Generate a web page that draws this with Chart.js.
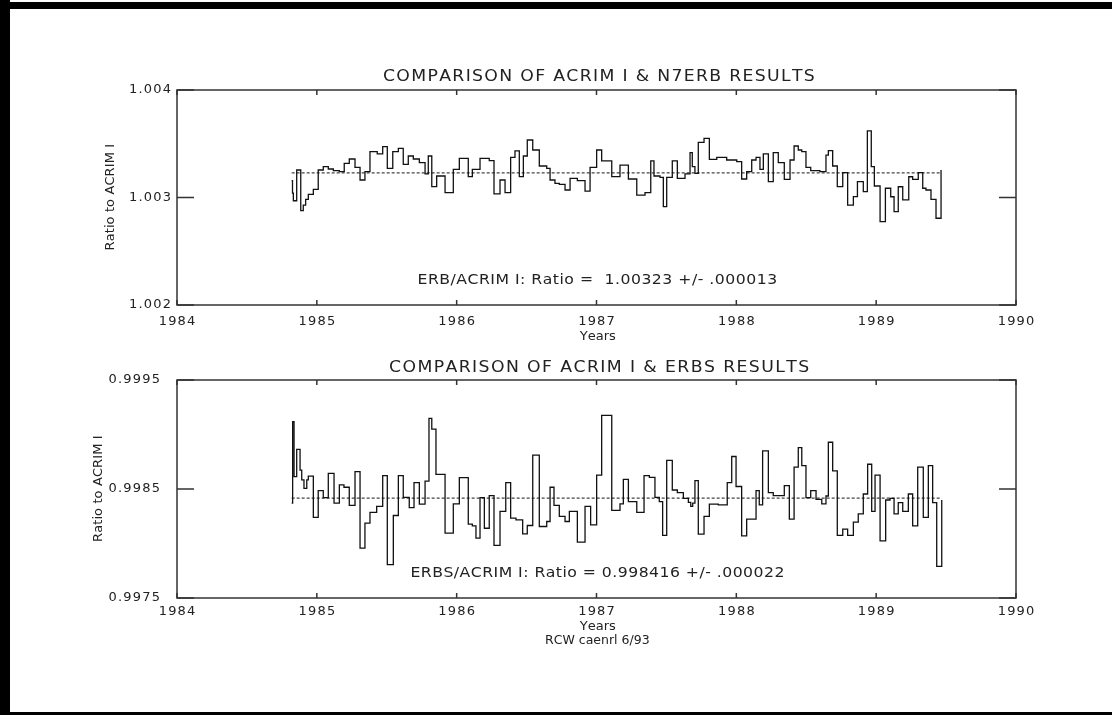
<!DOCTYPE html>
<html>
<head>
<meta charset="utf-8">
<title>Comparison of ACRIM I results</title>
<script src="https://cdn.jsdelivr.net/npm/chart.js@4.4.1/dist/chart.umd.min.js"></script>
<style>
    html, body { margin: 0; padding: 0; background: #fff; }
    #page { position: relative; width: 1112px; height: 715px; overflow: hidden; background: #fff; }
    .bar { position: absolute; background: #000; }
    canvas { position: absolute; left: 0; }
</style>
</head>
<body>
<div id="page">
    <canvas id="topChart" width="1112" height="357" style="top:0"></canvas>
    <canvas id="bottomChart" width="1112" height="358" style="top:357px"></canvas>
    <div class="bar" style="left:0;top:2px;width:1112px;height:7px"></div>
    <div class="bar" style="left:0;top:0;width:10px;height:715px"></div>
    <div class="bar" style="left:0;top:712px;width:1112px;height:3px"></div>
</div>
<script>
const years = [1984, 1985, 1986, 1987, 1988, 1989, 1990];
const n7Ticks = [1.002, 1.003, 1.004];
const erbsTicks = [0.9975, 0.9985, 0.9995];
const n7Mean = 1.00323;
const erbsMean = 0.998416;

// N7 ERB / ACRIM I, step starts (decimal year) and ratios
const n7Years = [
    1984.820, 1984.826, 1984.832, 1984.856, 1984.885, 1984.903, 1984.920, 1984.939, 1984.975, 1985.010,
    1985.046, 1985.082, 1985.118, 1985.161, 1985.196, 1985.232, 1985.273, 1985.309, 1985.344, 1985.380,
    1985.432, 1985.471, 1985.504, 1985.543, 1985.583, 1985.618, 1985.654, 1985.690, 1985.733, 1985.774,
    1985.797, 1985.822, 1985.857, 1985.917, 1985.976, 1986.019, 1986.083, 1986.112, 1986.167, 1986.233,
    1986.267, 1986.310, 1986.346, 1986.386, 1986.417, 1986.448, 1986.477, 1986.505, 1986.544, 1986.591,
    1986.644, 1986.668, 1986.703, 1986.734, 1986.775, 1986.811, 1986.863, 1986.918, 1986.954, 1987.001,
    1987.037, 1987.109, 1987.168, 1987.228, 1987.288, 1987.347, 1987.388, 1987.411, 1987.454, 1987.478,
    1987.502, 1987.542, 1987.578, 1987.633, 1987.669, 1987.685, 1987.704, 1987.728, 1987.769, 1987.807,
    1987.860, 1987.931, 1988.003, 1988.038, 1988.074, 1988.110, 1988.141, 1988.169, 1988.193, 1988.229,
    1988.264, 1988.300, 1988.343, 1988.384, 1988.413, 1988.443, 1988.468, 1988.498, 1988.532, 1988.598,
    1988.641, 1988.658, 1988.689, 1988.722, 1988.761, 1988.796, 1988.837, 1988.866, 1988.908, 1988.937,
    1988.965, 1988.987, 1989.028, 1989.066, 1989.104, 1989.128, 1989.158, 1989.190, 1989.233, 1989.261,
    1989.301, 1989.333, 1989.356, 1989.392, 1989.428, 1989.464
];
const n7Ratio = [
    1.003156, 1.003040, 1.002970, 1.003256, 1.002877, 1.002930, 1.002983, 1.003030, 1.003076, 1.003256,
    1.003287, 1.003265, 1.003250, 1.003240, 1.003318, 1.003358, 1.003281, 1.003163, 1.003240, 1.003426,
    1.003405, 1.003473, 1.003271, 1.003426, 1.003457, 1.003309, 1.003386, 1.003358, 1.003324, 1.003219,
    1.003386, 1.003101, 1.003200, 1.003045, 1.003262, 1.003364, 1.003194, 1.003262, 1.003364, 1.003343,
    1.003033, 1.003163, 1.003045, 1.003374, 1.003433, 1.003194, 1.003386, 1.003535, 1.003442, 1.003293,
    1.003271, 1.003163, 1.003132, 1.003123, 1.003070, 1.003178, 1.003157, 1.003060, 1.003281, 1.003442,
    1.003340, 1.003194, 1.003302, 1.003172, 1.003023, 1.003045, 1.003340, 1.003200, 1.003188, 1.002915,
    1.003188, 1.003340, 1.003178, 1.003219, 1.003417, 1.003287, 1.003225, 1.003513, 1.003550, 1.003355,
    1.003374, 1.003349, 1.003334, 1.003172, 1.003240, 1.003349, 1.003374, 1.003262, 1.003405, 1.003147,
    1.003417, 1.003324, 1.003169, 1.003349, 1.003479, 1.003442, 1.003426, 1.003281, 1.003250, 1.003240,
    1.003395, 1.003436, 1.003293, 1.003101, 1.003231, 1.002930, 1.003009, 1.003147, 1.003054, 1.003619,
    1.003287, 1.003107, 1.002775, 1.003086, 1.003007, 1.002868, 1.003100, 1.002977, 1.003193, 1.003169,
    1.003231, 1.003086, 1.003070, 1.002983, 1.002807, 1.003256
];

// ERBS / ACRIM I
const erbsYears = [
    1984.820, 1984.827, 1984.837, 1984.856, 1984.880, 1984.892, 1984.908, 1984.928, 1984.939, 1984.975,
    1985.010, 1985.046, 1985.082, 1985.123, 1985.161, 1985.194, 1985.232, 1985.273, 1985.309, 1985.344,
    1985.380, 1985.428, 1985.471, 1985.504, 1985.547, 1985.583, 1985.618, 1985.661, 1985.695, 1985.733,
    1985.774, 1985.802, 1985.822, 1985.852, 1985.917, 1985.976, 1986.019, 1986.083, 1986.112, 1986.138,
    1986.167, 1986.198, 1986.233, 1986.267, 1986.310, 1986.351, 1986.386, 1986.424, 1986.472, 1986.505,
    1986.544, 1986.591, 1986.644, 1986.668, 1986.696, 1986.734, 1986.775, 1986.806, 1986.863, 1986.918,
    1986.958, 1987.001, 1987.037, 1987.109, 1987.168, 1987.192, 1987.228, 1987.288, 1987.340, 1987.378,
    1987.418, 1987.449, 1987.473, 1987.502, 1987.542, 1987.578, 1987.621, 1987.657, 1987.674, 1987.688,
    1987.704, 1987.728, 1987.769, 1987.807, 1987.871, 1987.935, 1987.967, 1987.998, 1988.038, 1988.074,
    1988.141, 1988.164, 1988.188, 1988.229, 1988.264, 1988.343, 1988.379, 1988.413, 1988.443, 1988.468,
    1988.498, 1988.532, 1988.570, 1988.611, 1988.641, 1988.658, 1988.689, 1988.722, 1988.761, 1988.796,
    1988.837, 1988.872, 1988.908, 1988.939, 1988.968, 1988.992, 1989.028, 1989.068, 1989.099, 1989.128,
    1989.158, 1989.190, 1989.230, 1989.261, 1989.297, 1989.337, 1989.373, 1989.404, 1989.433, 1989.469
];
const erbsRatio = [
    0.998370, 0.999118, 0.998613, 0.998864, 0.998674, 0.998583, 0.998506, 0.998583, 0.998619, 0.998239,
    0.998485, 0.998421, 0.998644, 0.998370, 0.998537, 0.998516, 0.998349, 0.998659, 0.997957, 0.998187,
    0.998285, 0.998340, 0.998622, 0.997806, 0.998257, 0.998622, 0.998424, 0.998330, 0.998558, 0.998361,
    0.998573, 0.999148, 0.999050, 0.998635, 0.998095, 0.998364, 0.998604, 0.998177, 0.998162, 0.998049,
    0.998421, 0.998140, 0.998439, 0.997982, 0.998294, 0.998558, 0.998232, 0.998217, 0.998089, 0.998165,
    0.998810, 0.998156, 0.998202, 0.998516, 0.998349, 0.998248, 0.998202, 0.998294, 0.998012, 0.998340,
    0.998171, 0.998628, 0.999176, 0.998303, 0.998364, 0.998589, 0.998385, 0.998285, 0.998622, 0.998607,
    0.998424, 0.998385, 0.998074, 0.998762, 0.998491, 0.998466, 0.998414, 0.998378, 0.998340, 0.998370,
    0.998577, 0.998086, 0.998248, 0.998361, 0.998355, 0.998558, 0.998798, 0.998523, 0.998070, 0.998223,
    0.998485, 0.998355, 0.998850, 0.998466, 0.998439, 0.998531, 0.998223, 0.998700, 0.998880, 0.998715,
    0.998421, 0.998485, 0.998405, 0.998364, 0.998436, 0.998929, 0.998667, 0.998074, 0.998131, 0.998074,
    0.998196, 0.998271, 0.998454, 0.998727, 0.998294, 0.998628, 0.998024, 0.998399, 0.998414, 0.998271,
    0.998375, 0.998294, 0.998454, 0.998162, 0.998700, 0.998239, 0.998715, 0.998375, 0.997791, 0.998399
];

const FONT = '"DejaVu Sans", "Liberation Sans", sans-serif';
const INK = '#222';

// draw text char by char (stretched by sx, plus letter spacing), centred on cx
function spacedText(ctx, text, cx, cy, size, width, sx) {
    sx = sx || 1;
    ctx.font = size + 'px ' + FONT;
    const chars = [...text];
    const natural = ctx.measureText(text).width * sx;
    const gap = width && chars.length > 1 ? (width - natural) / (chars.length - 1) : 0;
    const total = natural + gap * (chars.length - 1);
    let x = cx - total / 2;
    ctx.textAlign = 'left';
    ctx.textBaseline = 'middle';
    chars.forEach(ch => {
        ctx.save();
        ctx.translate(x, cy);
        ctx.scale(sx, 1);
        ctx.fillText(ch, 0, 0);
        ctx.restore();
        x += ctx.measureText(ch).width * sx + gap;
    });
    return total;
}

function tickText(ctx, text, x, cy, align) {
    const size = 13, gap = 1.2;
    ctx.font = size + 'px ' + FONT;
    const w = ctx.measureText(text).width + gap * (text.length - 1);
    const cx = align === 'right' ? x - w / 2 : x;
    spacedText(ctx, text, cx, cy, size, w);
}

// IDL style box: inward ticks on all four sides, labels drawn by hand
const idlAxes = {
    id: 'idlAxes',
    afterDraw(chart, args, o) {
        const { ctx, chartArea: a, scales: { x, y } } = chart;
        ctx.save();
        ctx.strokeStyle = '#333';
        ctx.lineWidth = 1.5;
        ctx.strokeRect(a.left, a.top, a.right - a.left, a.bottom - a.top);
        ctx.beginPath();
        years.forEach(v => {
            const px = x.getPixelForValue(v);
            ctx.moveTo(px, a.top); ctx.lineTo(px, a.top + 5);
            ctx.moveTo(px, a.bottom); ctx.lineTo(px, a.bottom - 5);
        });
        o.yTicks.forEach(v => {
            const py = y.getPixelForValue(v);
            ctx.moveTo(a.left, py); ctx.lineTo(a.left + 17, py);
            ctx.moveTo(a.right, py); ctx.lineTo(a.right - 17, py);
        });
        ctx.stroke();

        ctx.fillStyle = INK;
        years.forEach(v => tickText(ctx, String(v), x.getPixelForValue(v), o.xLabelY));
        o.yTicks.forEach(v => tickText(ctx, v.toFixed(o.digits), o.yLabelRight, y.getPixelForValue(v), 'right'));

        spacedText(ctx, o.title, o.centerX, o.titleY, 15, o.titleWidth, 1.15);
        spacedText(ctx, o.note, o.centerX, o.noteY, 14.5, o.noteWidth, 1.08);
        spacedText(ctx, 'Years', o.centerX, o.xLabelY + 15, 13);
        if (o.footer) spacedText(ctx, o.footer, o.centerX, o.xLabelY + 29, 12.5);

        ctx.translate(o.yTitleX, (a.top + a.bottom) / 2);
        ctx.rotate(-Math.PI / 2);
        spacedText(ctx, 'Ratio to ACRIM I', 0, 0, 13, 106);
        ctx.restore();
    }
};

function makeChart(id, xs, ys, mean, ticks, pad, labels) {
    const steps = xs.map((t, i) => ({ x: t, y: ys[i] }));
    const meanLine = [{ x: xs[0], y: mean }, { x: xs[xs.length - 1], y: mean }];
    return new Chart(document.getElementById(id), {
        type: 'line',
        data: {
            datasets: [{
                data: steps,
                stepped: true,
                borderColor: '#111',
                borderWidth: 1.3,
                pointRadius: 0,
                fill: false
            }, {
                data: meanLine,
                borderColor: '#444',
                borderWidth: 1.2,
                borderDash: [3, 2],
                pointRadius: 0,
                fill: false
            }]
        },
        options: {
            responsive: false,
            devicePixelRatio: 1,
            animation: false,
            events: [],
            layout: { padding: pad },
            scales: {
                x: { type: 'linear', min: years[0], max: years[years.length - 1], display: false },
                y: { type: 'linear', min: ticks[0], max: ticks[ticks.length - 1], display: false }
            },
            plugins: {
                legend: { display: false },
                tooltip: { enabled: false },
                idlAxes: Object.assign({ yTicks: ticks, centerX: 597 }, labels)
            }
        },
        plugins: [idlAxes]
    });
}

makeChart('topChart', n7Years, n7Ratio, n7Mean, n7Ticks,
    { left: 177, top: 90, right: 96, bottom: 52 },
    {
        digits: 3, yLabelRight: 171, xLabelY: 322, yTitleX: 111,
        title: 'COMPARISON OF ACRIM I & N7ERB RESULTS', titleY: 77, titleWidth: 428,
        note: 'ERB/ACRIM I: Ratio =  1.00323 +/- .000013', noteY: 280, noteWidth: 359
    });

makeChart('bottomChart', erbsYears, erbsRatio, erbsMean, erbsTicks,
    { left: 177, top: 23, right: 96, bottom: 117 },
    {
        digits: 4, yLabelRight: 160, xLabelY: 255, yTitleX: 99,
        title: 'COMPARISON OF ACRIM I & ERBS RESULTS', titleY: 11, titleWidth: 416,
        note: 'ERBS/ACRIM I: Ratio = 0.998416 +/- .000022', noteY: 216, noteWidth: 373,
        footer: 'RCW caenrl 6/93'
    });
</script>
</body>
</html>
